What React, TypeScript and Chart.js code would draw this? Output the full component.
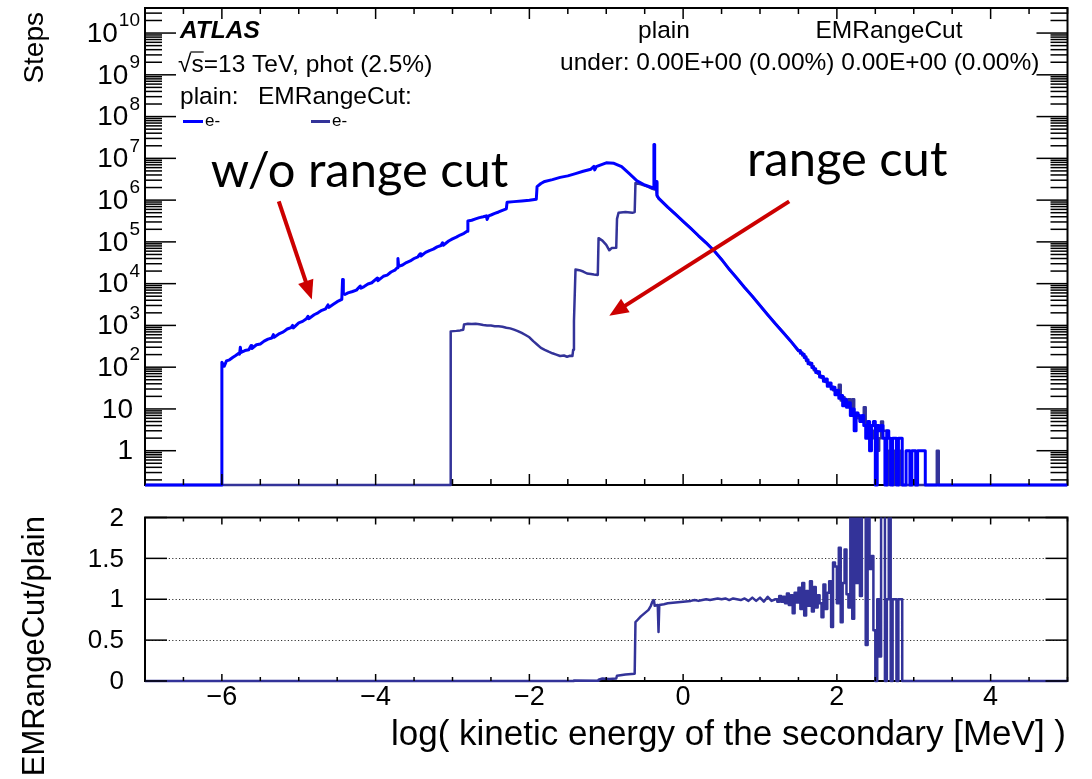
import React, { useEffect, useRef } from "react";
import { Chart, registerables } from "chart.js";

Chart.register(...registerables);

// ---------------- data ----------------
// x = log10(kinetic energy of the secondary / MeV)
const X_MIN = -7;
const X_MAX = 5;
const STEPS_MIN = 0.151;
const STEPS_MAX = 3.98e10;
const RATIO_MIN = 0;
const RATIO_MAX = 2;

// "plain" (no range cut): [x, steps]
const plainCurve: [number, number][] = [
  [-7, 0], [-6.0, 0], [-6.0, 132], [-5.97, 105], [-5.94, 141], [-5.9, 150], [-5.86, 170],
  [-5.82, 190], [-5.78, 215], [-5.77, 205], [-5.76, 300], [-5.75, 225], [-5.7, 250],
  [-5.65, 262], [-5.62, 330], [-5.61, 280], [-5.55, 345], [-5.5, 360], [-5.45, 420],
  [-5.4, 470], [-5.35, 500], [-5.33, 600], [-5.32, 520], [-5.25, 640], [-5.2, 700],
  [-5.15, 820], [-5.1, 890], [-5.08, 1000], [-5.07, 870], [-5.0, 1150], [-4.95, 1250],
  [-4.9, 1450], [-4.88, 1650], [-4.87, 1450], [-4.8, 1800], [-4.75, 2000], [-4.7, 2300],
  [-4.65, 2500], [-4.62, 3100], [-4.61, 2700], [-4.55, 3200], [-4.5, 3700], [-4.44, 4200],
  [-4.43, 12500], [-4.42, 12500], [-4.42, 6000], [-4.4, 5500], [-4.36, 6000], [-4.3, 6500],
  [-4.25, 7000], [-4.2, 8800], [-4.19, 7800], [-4.15, 8500], [-4.1, 9800], [-4.05, 10500],
  [-3.98, 13500], [-3.97, 11800], [-3.9, 15000], [-3.85, 16000], [-3.8, 19000],
  [-3.75, 21000], [-3.72, 24000], [-3.71, 40000], [-3.7, 26000], [-3.65, 28000],
  [-3.6, 32000], [-3.55, 35000], [-3.5, 40000], [-3.45, 44000], [-3.42, 52000],
  [-3.41, 46000], [-3.35, 56000], [-3.3, 62000], [-3.25, 67000], [-3.2, 76000],
  [-3.15, 82000], [-3.13, 95000], [-3.12, 83000], [-3.05, 105000], [-3.0, 118000],
  [-2.95, 130000], [-2.9, 146000], [-2.85, 160000], [-2.81, 180000], [-2.8, 315000],
  [-2.75, 330000], [-2.7, 355000], [-2.65, 380000], [-2.6, 400000], [-2.56, 420000],
  [-2.55, 345000], [-2.53, 420000], [-2.5, 440000], [-2.45, 480000], [-2.4, 520000],
  [-2.35, 570000], [-2.3, 615000], [-2.29, 890000], [-2.2, 920000], [-2.1, 950000],
  [-2.0, 990000], [-1.91, 1.05e6], [-1.9, 2.1e6], [-1.85, 2.5e6], [-1.8, 2.8e6],
  [-1.7, 3.1e6], [-1.6, 3.5e6], [-1.5, 3.8e6], [-1.4, 4.3e6], [-1.3, 4.9e6], [-1.2, 5.5e6],
  [-1.16, 6.4e6], [-1.15, 5.3e6], [-1.13, 6.3e6], [-1.07, 7.0e6], [-1.0, 7.8e6],
  [-0.9, 7.6e6], [-0.8, 6.3e6], [-0.7, 4.3e6], [-0.6, 2.9e6], [-0.5, 2.3e6],
  [-0.39, 1.95e6], [-0.38, 2.14e7], [-0.37, 2.14e7], [-0.37, 1.9e6], [-0.35, 2.8e6],
  [-0.34, 1.3e6], [-0.32, 1.12e6], [-0.2, 6.8e5], [-0.1, 4.6e5], [0.0, 3.1e5], [0.1, 2.1e5],
  [0.2, 1.4e5], [0.3, 9.5e4], [0.4, 6.2e4], [0.5, 3.8e4], [0.6, 2.2e4], [0.7, 1.35e4],
  [0.8, 8.1e3], [0.9, 5.0e3], [1.0, 3.0e3], [1.1, 1.8e3], [1.2, 1.1e3], [1.3, 680],
  [1.4, 420], [1.5, 250],
];
// noisy part, bins of width TAIL_BIN starting at TAIL_START
const plainTail = [
  250, 215, 205, 170, 150, 120, 125, 98, 92, 75, 78, 58, 60, 46, 52, 35, 42, 30, 33, 22,
  28, 18, 21, 12, 17, 11, 14, 7,
  10, 3, 8, 7, 5, 7, 4, 2, 5, 1, 4, 5, 0, 4, 3, 4, 2, 0, 3, 2,
  0, 2, 2, 0, 2, 2, 0, 0, 1, 1, 0, 1, 1, 0, 1, 1, 1, 1, 0, 0,
];

// "EMRangeCut": [x, steps]
const cutCurve: [number, number][] = [
  [-7, 0], [-3.03, 0], [-3.03, 22], [-3.02, 22], [-3.02, 720], [-2.95, 740], [-2.9, 760],
  [-2.86, 790], [-2.85, 1050], [-2.8, 1100], [-2.75, 1080], [-2.7, 1100], [-2.65, 1060],
  [-2.6, 1020], [-2.55, 1000], [-2.5, 990], [-2.45, 960], [-2.4, 950], [-2.35, 930],
  [-2.3, 880], [-2.25, 850], [-2.2, 790], [-2.15, 730], [-2.1, 660], [-2.05, 590],
  [-2.0, 520], [-1.95, 420], [-1.9, 350], [-1.85, 290], [-1.8, 260], [-1.75, 235],
  [-1.7, 215], [-1.65, 200], [-1.6, 185], [-1.55, 190], [-1.51, 178], [-1.47, 188],
  [-1.44, 185], [-1.43, 263], [-1.42, 1260], [-1.4, 21900], [-1.35, 21000], [-1.3, 19500],
  [-1.25, 17500], [-1.2, 17000], [-1.16, 16600], [-1.11, 16200], [-1.1, 1.23e5],
  [-1.05, 1.07e5], [-1.0, 8.5e4], [-0.96, 6.3e4], [-0.93, 7.1e4], [-0.87, 7.2e4],
  [-0.86, 3.55e5], [-0.84, 5.0e5], [-0.75, 5.2e5], [-0.66, 5.0e5], [-0.63, 5.2e5],
  [-0.62, 2.57e6], [-0.55, 2.4e6], [-0.46, 2.1e6], [-0.4, 1.86e6], [-0.37, 1.8e6],
  [-0.35, 2.6e6], [-0.34, 1.25e6], [-0.32, 1.1e6], [-0.2, 6.7e5], [-0.1, 4.6e5],
  [0.0, 3.1e5], [0.1, 2.1e5], [0.2, 1.4e5], [0.3, 9.4e4], [0.4, 6.2e4], [0.5, 3.8e4],
  [0.6, 2.2e4], [0.7, 1.35e4], [0.8, 8.0e3], [0.9, 5.0e3], [1.0, 3.0e3], [1.1, 1.8e3],
  [1.2, 1.1e3], [1.3, 690], [1.4, 420], [1.5, 240],
];
const cutTail = [
  240, 225, 190, 180, 140, 130, 115, 105, 85, 80, 70, 62, 55, 50, 44, 40, 36, 34, 28, 26,
  24, 38, 16, 19, 14, 13, 17, 9,
  17, 6, 8, 6, 5, 6, 11, 4, 4, 3, 2, 3, 4, 1, 2, 5, 3, 3, 0, 1,
  2, 0, 1, 2, 0, 1, 0, 0, 0, 0, 0, 0, 0, 0, 0, 0, 0, 0, 0, 0,
  0, 0, 0, 0, 1, 0,
];
const TAIL_START = 1.5;
const TAIL_BIN = 0.025;

// ratio EMRangeCut / plain: [x, ratio]
const ratioCurve: [number, number][] = [
  [-7, 0], [-1.42, 0], [-1.42, 0.005], [-1.1, 0.004], [-1.1, 0.016], [-1.05, 0.03],
  [-0.96, 0.025], [-0.87, 0.03], [-0.86, 0.065], [-0.75, 0.08], [-0.63, 0.09], [-0.62, 0.72],
  [-0.6, 0.74], [-0.55, 0.79], [-0.5, 0.83], [-0.45, 0.87], [-0.42, 0.92], [-0.4, 0.97],
  [-0.38, 0.99], [-0.37, 0.92], [-0.33, 0.93], [-0.32, 0.6], [-0.31, 0.93], [-0.25, 0.94],
  [-0.2, 0.95], [-0.1, 0.96], [0.0, 0.97], [0.1, 0.98], [0.15, 0.99], [0.2, 0.98],
  [0.25, 0.99], [0.3, 1.0], [0.35, 0.99], [0.4, 1.0], [0.45, 1.01], [0.5, 1.0], [0.55, 1.01],
  [0.6, 0.99], [0.65, 1.01], [0.7, 1.0], [0.75, 0.99], [0.8, 1.01], [0.85, 0.98], [0.9, 1.02],
  [0.95, 0.98], [1.0, 1.02], [1.05, 0.97], [1.1, 1.03], [1.15, 0.98], [1.2, 1.0],
];
const ratioTail = [
  1.0, 0.97, 1.04, 0.97, 1.03, 0.95, 1.07, 0.93, 1.05, 0.83, 1.08, 0.96, 1.14, 0.88, 1.2, 0.8,
  1.1, 0.92, 1.22, 0.85, 1.15, 0.9, 1.05, 0.95, 0.78, 1.18, 0.88, 1.08, 1.22, 0.66, 1.45, 1.4,
  0.95, 1.63, 0.72, 1.2, 1.61, 1.06, 0.9, 2.6, 0.76, 2.4, 1.2, 2.5, 1.04, 2.6, 2.3, 0.44,
  2.5, 1.37, 1.53, 0.62, 0.0, 1.0, 0.3, 2.5, 2.6, 0.0, 1.0, 2.4, 0.0, 1.0, 1.0, 0.0,
  1.0, 1.0, 0.0,
];
const RATIO_TAIL_START = 1.2;

const xTickValues = [-6, -4, -2, 0, 2, 4];
const xTickLabels = ["\u22126", "\u22124", "\u22122", "0", "2", "4"];
const stepsTickValues = [1, 10, 1e2, 1e3, 1e4, 1e5, 1e6, 1e7, 1e8, 1e9, 1e10];
const stepsTickBases = ["1", "10", "10", "10", "10", "10", "10", "10", "10", "10", "10"];
const stepsTickExponents = ["", "", "2", "3", "4", "5", "6", "7", "8", "9", "10"];
const ratioTickValues = [0, 0.5, 1, 1.5, 2];
const ratioTickLabels = ["0", "0.5", "1", "1.5", "2"];

// annotations (data coordinates)
const noCutNote = { text: "w/o range cut", xFrom: -6.145, xTo: -2.27, baseline: 2.1e6 };
const cutNote = { text: "range cut", xFrom: 0.83, baseline: 3.7e6 };
const noCutArrow = { x0: -5.26, y0: 9.3e5, x1: -4.83, y1: 4.2e3 };
const cutArrow = { x0: 1.38, y0: 9.3e5, x1: -0.96, y1: 1.7e3 };

// ---------------- styles ----------------
const FONT = "'Liberation Sans', Arial, Helvetica, sans-serif";
const NOTE_FONT = "Lato, 'Open Sans', sans-serif";
const PLAIN_COLOR = "#0000ff";
const CUT_COLOR = "#333399";
const ARROW_COLOR = "#cc0000";

type Pt = { x: number; y: number };

function buildSeries(curve: [number, number][], tail: number[], tailStart: number, floor: number): Pt[] {
  const pts: Pt[] = curve.map(([x, y]) => ({ x, y: y > floor ? y : floor }));
  tail.forEach((v, i) => {
    const x0 = tailStart + i * TAIL_BIN;
    const y = v > floor ? v : floor;
    pts.push({ x: x0, y }, { x: x0 + TAIL_BIN, y });
  });
  const end = tailStart + tail.length * TAIL_BIN;
  pts.push({ x: end, y: floor }, { x: X_MAX, y: floor });
  return pts;
}

function line(ctx: CanvasRenderingContext2D, x0: number, y0: number, x1: number, y1: number) {
  ctx.beginPath();
  ctx.moveTo(x0, y0);
  ctx.lineTo(x1, y1);
  ctx.stroke();
}

function drawFrame(chart: any) {
  const { ctx, chartArea: a } = chart;
  ctx.save();
  ctx.strokeStyle = "#000";
  ctx.lineWidth = 2;
  ctx.strokeRect(a.left, a.top, a.right - a.left, a.bottom - a.top);
  ctx.restore();
}

function drawXTicks(chart: any, majorLen: number, minorLen: number) {
  const { ctx, chartArea: a } = chart;
  const xs = chart.scales.x;
  ctx.save();
  ctx.strokeStyle = "#000";
  ctx.lineWidth = 1.5;
  for (let k = 0; k <= (X_MAX - X_MIN) * 2; k++) {
    const v = X_MIN + k * 0.5;
    const major = xTickValues.includes(v);
    const len = major ? majorLen : minorLen;
    const px = xs.getPixelForValue(v);
    line(ctx, px, a.bottom, px, a.bottom - len);
    line(ctx, px, a.top, px, a.top + len);
  }
  ctx.restore();
}

function drawArrow(chart: any, ar: { x0: number; y0: number; x1: number; y1: number }) {
  const { ctx } = chart;
  const xs = chart.scales.x;
  const ys = chart.scales.y;
  const x0 = xs.getPixelForValue(ar.x0);
  const y0 = ys.getPixelForValue(ar.y0);
  const x1 = xs.getPixelForValue(ar.x1);
  const y1 = ys.getPixelForValue(ar.y1);
  const ang = Math.atan2(y1 - y0, x1 - x0);
  const headLen = 19;
  const headHalf = 8;
  const bx = x1 - headLen * Math.cos(ang);
  const by = y1 - headLen * Math.sin(ang);
  ctx.save();
  ctx.strokeStyle = ARROW_COLOR;
  ctx.fillStyle = ARROW_COLOR;
  ctx.lineWidth = 4;
  line(ctx, x0, y0, bx + 2 * Math.cos(ang), by + 2 * Math.sin(ang));
  ctx.beginPath();
  ctx.moveTo(x1, y1);
  ctx.lineTo(bx - headHalf * Math.sin(ang), by + headHalf * Math.cos(ang));
  ctx.lineTo(bx + headHalf * Math.sin(ang), by - headHalf * Math.cos(ang));
  ctx.closePath();
  ctx.fill();
  ctx.restore();
}

const topDecor = {
  id: "topDecor",
  beforeDatasetsDraw(chart: any) {
    drawFrame(chart);
  },
  afterDatasetsDraw(chart: any) {
    const { ctx, chartArea: a } = chart;
    const xs = chart.scales.x;
    const ys = chart.scales.y;
    drawXTicks(chart, 11, 6);

    // log y ticks, both sides
    ctx.save();
    ctx.strokeStyle = "#000";
    ctx.lineWidth = 1.5;
    for (let d = -1; d <= 10; d++) {
      for (let m = 1; m <= 9; m++) {
        const v = m * Math.pow(10, d);
        if (v < STEPS_MIN || v > STEPS_MAX) continue;
        const py = ys.getPixelForValue(v);
        const len = m === 1 ? 31 : 17;
        line(ctx, a.left, py, a.left + len, py);
        line(ctx, a.right, py, a.right - len, py);
      }
    }
    ctx.restore();

    // y tick labels with exponents
    ctx.save();
    ctx.fillStyle = "#000";
    ctx.textBaseline = "middle";
    stepsTickValues.forEach((v, i) => {
      const py = ys.getPixelForValue(v);
      const base = stepsTickBases[i];
      const ex = stepsTickExponents[i];
      if (!ex) {
        ctx.font = `28px ${FONT}`;
        ctx.textAlign = "right";
        ctx.fillText(base, a.left - 12, py + 1);
      } else {
        ctx.font = `19px ${FONT}`;
        const ew = ctx.measureText(ex).width;
        ctx.textAlign = "left";
        ctx.fillText(ex, a.left - 5 - ew, py - 12);
        ctx.font = `28px ${FONT}`;
        ctx.textAlign = "right";
        ctx.fillText(base, a.left - 6 - ew, py + 1);
      }
    });

    // axis title
    ctx.save();
    ctx.translate(35, 12);
    ctx.rotate(-Math.PI / 2);
    ctx.font = `28px ${FONT}`;
    ctx.textAlign = "right";
    ctx.textBaseline = "middle";
    ctx.fillText("Steps", 0, 0);
    ctx.restore();

    // ATLAS label block
    ctx.textAlign = "left";
    ctx.font = `bold italic 24.5px ${FONT}`;
    ctx.fillText("ATLAS", 180, 31);
    ctx.font = `24.5px ${FONT}`;
    const sqrtText = "\u221As=13 TeV, phot (2.5%)";
    ctx.fillText(sqrtText, 178, 65);
    const wRad = ctx.measureText("\u221A").width;
    const wS = ctx.measureText("s").width;
    ctx.strokeStyle = "#000";
    ctx.lineWidth = 1.2;
    line(ctx, 178 + wRad - 1, 52, 178 + wRad + wS, 52);
    ctx.fillText("plain:", 180, 97);
    ctx.fillText("EMRangeCut:", 258, 97);

    // legend entries
    ctx.lineWidth = 3;
    ctx.strokeStyle = PLAIN_COLOR;
    line(ctx, 183, 121.5, 203, 121.5);
    ctx.strokeStyle = CUT_COLOR;
    line(ctx, 311, 121.5, 330, 121.5);
    ctx.font = `17px ${FONT}`;
    ctx.fillText("e-", 205, 121);
    ctx.fillText("e-", 332, 121);

    // top-right block
    ctx.font = `24.5px ${FONT}`;
    ctx.textAlign = "center";
    ctx.fillText("plain", 664, 31);
    ctx.fillText("EMRangeCut", 889, 31);
    ctx.textAlign = "left";
    ctx.fillText("under: 0.00E+00 (0.00%) 0.00E+00 (0.00%)", 560, 63);
    ctx.restore();

    // annotations
    ctx.save();
    ctx.fillStyle = "#000";
    ctx.textAlign = "left";
    ctx.textBaseline = "alphabetic";
    ctx.font = `100px ${NOTE_FONT}`;
    const targetW = xs.getPixelForValue(noCutNote.xTo) - xs.getPixelForValue(noCutNote.xFrom);
    const size = (100 * targetW) / ctx.measureText(noCutNote.text).width;
    ctx.font = `${size.toFixed(1)}px ${NOTE_FONT}`;
    ctx.fillText(noCutNote.text, xs.getPixelForValue(noCutNote.xFrom), ys.getPixelForValue(noCutNote.baseline));
    ctx.fillText(cutNote.text, xs.getPixelForValue(cutNote.xFrom), ys.getPixelForValue(cutNote.baseline));
    ctx.restore();
    drawArrow(chart, noCutArrow);
    drawArrow(chart, cutArrow);
  },
};

const bottomDecor = {
  id: "bottomDecor",
  beforeDatasetsDraw(chart: any) {
    const { ctx, chartArea: a } = chart;
    const ys = chart.scales.y;
    ctx.save();
    ctx.strokeStyle = "#333";
    ctx.lineWidth = 1;
    ctx.setLineDash([1.2, 2.2]);
    [0.5, 1, 1.5].forEach((v) => {
      const py = Math.round(ys.getPixelForValue(v)) + 0.5;
      line(ctx, a.left, py, a.right, py);
    });
    ctx.restore();
    drawFrame(chart);
  },
  afterDatasetsDraw(chart: any) {
    const { ctx, chartArea: a } = chart;
    const xs = chart.scales.x;
    const ys = chart.scales.y;
    drawXTicks(chart, 7, 4);
    ctx.save();
    ctx.strokeStyle = "#000";
    ctx.lineWidth = 1.5;
    ratioTickValues.forEach((v) => {
      const py = ys.getPixelForValue(v);
      line(ctx, a.left, py, a.left + 22, py);
      line(ctx, a.right, py, a.right - 22, py);
    });
    ctx.fillStyle = "#000";
    ctx.font = `26px ${FONT}`;
    ctx.textAlign = "right";
    ctx.textBaseline = "middle";
    ratioTickValues.forEach((v, i) => {
      ctx.fillText(ratioTickLabels[i], 124, ys.getPixelForValue(v) + 1);
    });
    ctx.font = `27px ${FONT}`;
    ctx.textAlign = "center";
    xTickValues.forEach((v, i) => {
      ctx.fillText(xTickLabels[i], xs.getPixelForValue(v), 198);
    });
    ctx.font = `35px ${FONT}`;
    ctx.textAlign = "right";
    ctx.textBaseline = "alphabetic";
    ctx.fillText("log( kinetic energy of the secondary [MeV] )", 1066, 245);
    ctx.save();
    ctx.translate(35, 16);
    ctx.rotate(-Math.PI / 2);
    ctx.font = `31px ${FONT}`;
    ctx.textAlign = "right";
    ctx.textBaseline = "middle";
    ctx.fillText("EMRangeCut/plain", 0, 0);
    ctx.restore();
    ctx.restore();
  },
};

function lineDataset(label: string, data: Pt[], color: string, width: number) {
  return {
    label,
    data,
    borderColor: color,
    backgroundColor: color,
    borderWidth: width,
    pointRadius: 0,
    tension: 0,
    fill: false,
    borderJoinStyle: "round" as const,
    clip: { left: 0, top: 0, right: 0, bottom: 2 },
  };
}

export default function App() {
  const topRef = useRef<HTMLCanvasElement>(null);
  const botRef = useRef<HTMLCanvasElement>(null);

  useEffect(() => {
    const plainPts = buildSeries(plainCurve, plainTail, TAIL_START, STEPS_MIN);
    const cutPts = buildSeries(cutCurve, cutTail, TAIL_START, STEPS_MIN);
    const ratioPts = buildSeries(ratioCurve, ratioTail, RATIO_TAIL_START, RATIO_MIN);

    const top = new Chart(topRef.current as HTMLCanvasElement, {
      type: "line",
      data: {
        datasets: [
          lineDataset("plain", plainPts, PLAIN_COLOR, 3),
          lineDataset("EMRangeCut", cutPts, CUT_COLOR, 2.5),
        ],
      } as any,
      options: {
        animation: false,
        responsive: false,
        events: [],
        layout: { padding: { left: 145, right: 24.5, top: 8, bottom: 15 } },
        scales: {
          x: { type: "linear", min: X_MIN, max: X_MAX, display: false },
          y: { type: "logarithmic", min: STEPS_MIN, max: STEPS_MAX, display: false },
        },
        plugins: { legend: { display: false }, tooltip: { enabled: false } },
      } as any,
      plugins: [topDecor],
    });

    const bot = new Chart(botRef.current as HTMLCanvasElement, {
      type: "line",
      data: {
        datasets: [lineDataset("EMRangeCut/plain", ratioPts, CUT_COLOR, 2.5)],
      } as any,
      options: {
        animation: false,
        responsive: false,
        events: [],
        layout: { padding: { left: 145, right: 24.5, top: 17.5, bottom: 98 } },
        scales: {
          x: { type: "linear", min: X_MIN, max: X_MAX, display: false },
          y: { type: "linear", min: RATIO_MIN, max: RATIO_MAX, display: false },
        },
        plugins: { legend: { display: false }, tooltip: { enabled: false } },
      } as any,
      plugins: [bottomDecor],
    });

    return () => {
      top.destroy();
      bot.destroy();
    };
  }, []);

  return (
    <div style={{ position: "fixed", left: 0, top: 0, width: 1092, height: 779, background: "#fff" }}>
      <canvas ref={topRef} width={1092} height={500} style={{ position: "absolute", left: 0, top: 0 }} />
      <canvas ref={botRef} width={1092} height={279} style={{ position: "absolute", left: 0, top: 500 }} />
    </div>
  );
}
